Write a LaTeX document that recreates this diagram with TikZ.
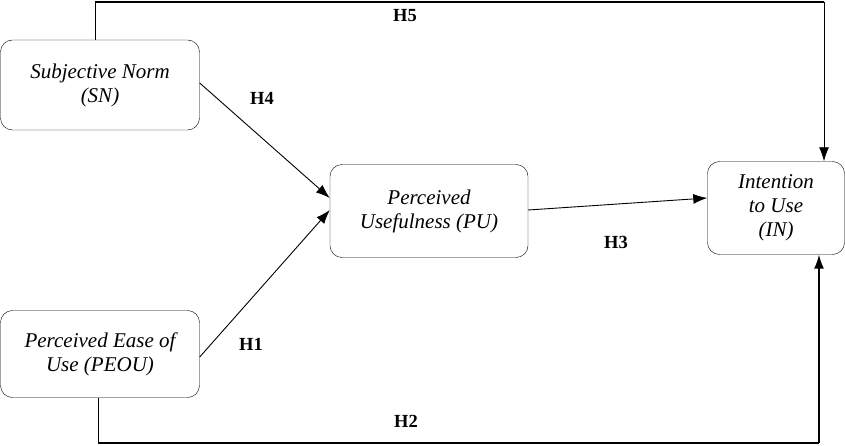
\documentclass[tikz,border=0pt]{standalone}
\usepackage{fontspec}
\setmainfont{Liberation Serif}
\usetikzlibrary{arrows.meta}

\begin{document}
\begin{tikzpicture}[x=1pt,y=-1pt,
    construct/.style={draw, rounded corners=12pt, align=center, font=\itshape\fontsize{21}{24}\selectfont, inner sep=0pt},
    hyp/.style={font=\bfseries\fontsize{18.5}{20}\selectfont},
    path/.style={-{Latex[length=14pt,width=10pt]}, line width=0.9pt}]
    % Bounding box
    \useasboundingbox (0,0) rectangle (845,446);
    % Constructs
    \node[construct, minimum width=199pt, minimum height=90pt] (SN) at (100,85) {Subjective Norm\\(SN)};
    \node[construct, minimum width=199pt, minimum height=87pt] (PEOU) at (100,354) {Perceived Ease of\\Use (PEOU)};
    \node[construct, minimum width=198pt, minimum height=93pt] (PU) at (429,211) {Perceived\\Usefulness (PU)};
    \node[construct, minimum width=137pt, minimum height=93pt] (IN) at (776,208) {Intention\\to Use\\(IN)};
    % Corner points of the long paths
    \coordinate (topL) at (95,2);
    \coordinate (topR) at (824,2);
    \coordinate (botL) at (98,443);
    \coordinate (botR) at (819,443);
    % Paths
    \draw[path] (SN.east |- 0,83) -- (PU.west |- 0,198);
    \draw[path] (PEOU.east |- 0,357) -- (PU.west |- 0,210);
    \draw[path] (PU.east |- 0,210) -- (IN.west |- 0,198);
    \draw[line width=0.8pt] (SN.north -| topL) -- (topL);
    \draw[line width=2pt] (topL) -- (topR);
    \draw[path] (topR) -- (IN.north -| topR);
    \draw[line width=0.8pt] (PEOU.south -| botL) -- (botL);
    \draw[line width=2pt] (botL) -- (botR);
    \draw[path, line width=1.5pt] (botR) -- (IN.south -| botR);
    % Hypothesis labels
    \node[hyp] (h5) at (405,16) {H5};
    \node[hyp] (h4) at (262,98) {H4};
    \node[hyp] (h3) at (616,242) {H3};
    \node[hyp] (h1) at (251,344) {H1};
    \node[hyp] (h2) at (406,421) {H2};
\end{tikzpicture}
\end{document}
